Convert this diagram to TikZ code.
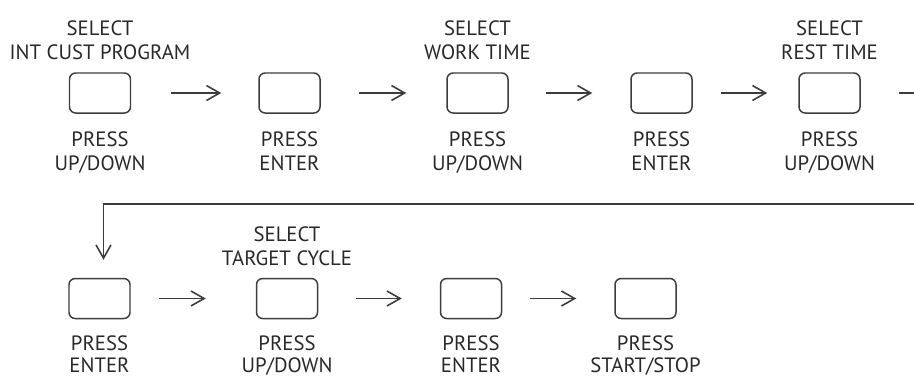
\documentclass[tikz,border=0pt]{standalone}
\usepackage{fontspec}
\setmainfont{PT Sans}
\usetikzlibrary{arrows.meta, positioning, calc}
\definecolor{keyGray}{RGB}{60,60,60}
\definecolor{txtGray}{RGB}{40,40,40}
\tikzset{
  keyN/.style={rectangle, rounded corners=3.5pt, draw=keyGray, line width=0.85pt,
    minimum width=1.22cm, minimum height=0.8cm, inner sep=0pt},
  capL/.style={font=\fontsize{11.8}{13.6}\selectfont, text=txtGray, align=center, inner sep=0pt},
  lowL/.style={capL, font=\fontsize{11.8}{12.4}\selectfont},
  arr/.style={-{Straight Barb[length=7.5pt,width=8.5pt,line width=0.9pt]}, line width=0.9pt, color=keyGray},
}
\begin{document}
\begin{tikzpicture}

\useasboundingbox (0,0) rectangle (18.28,-7.56);
\clip (0,0) rectangle (18.28,-7.56);

%% ── ROW 1 ─────────────────────────────────────────────
\node[keyN] (b1) at (2.00,-1.86) {};
\node[keyN] (b2) at (5.79,-1.86) {};
\node[keyN] (b3) at (9.55,-1.86) {};
\node[keyN] (b4) at (13.23,-1.86) {};
\node[keyN] (b5) at (16.59,-1.86) {};

\node[capL, above=0.24cm of b1] (t1) {SELECT\\INT CUST PROGRAM};
\node[capL, above=0.24cm of b3] (t3) {SELECT\\WORK TIME};
\node[capL, above=0.24cm of b5] (t5) {SELECT\\REST TIME};

\node[capL, below=0.36cm of b1] (p1) {PRESS\\UP/DOWN};
\node[capL, below=0.36cm of b2] (p2) {PRESS\\ENTER};
\node[capL, below=0.36cm of b3] (p3) {PRESS\\UP/DOWN};
\node[capL, below=0.36cm of b4] (p4) {PRESS\\ENTER};
\node[capL, below=0.36cm of b5] (p5) {PRESS\\UP/DOWN};

%% ── ROW 2 ─────────────────────────────────────────────
\node[keyN] (s1) at (1.99,-5.97) {};
\node[keyN] (s2) at (5.74,-5.97) {};
\node[keyN] (s3) at (9.42,-5.97) {};
\node[keyN] (s4) at (12.91,-5.97) {};

\node[capL, above=0.24cm of s2] (t6) {SELECT\\TARGET CYCLE};

\node[lowL, below=0.32cm of s1] (q1) {PRESS\\ENTER};
\node[lowL, below=0.32cm of s2] (q2) {PRESS\\UP/DOWN};
\node[lowL, below=0.32cm of s3] (q3) {PRESS\\ENTER};
\node[lowL, below=0.32cm of s4] (q4) {PRESS\\START/STOP};

%% ── ARROWS ────────────────────────────────────────────
\foreach \a/\b/\s/\e in {b1/b2/0.80/0.74, b2/b3/0.76/0.80, b3/b4/0.74/0.76,
                         b4/b5/0.56/0.62, s1/s2/0.56/1.00, s2/s3/0.76/0.76,
                         s3/s4/0.56/0.76}
  \draw[arr, shorten <=\s cm, shorten >=\e cm] (\a.east) -- (\b.west);

\coordinate (wrap) at (19.0,-4.08);
\draw[arr, shorten <=0.76cm, shorten >=0.36cm]
  (b5.east) -| (wrap) -| ([xshift=0.08cm]s1.north);

\end{tikzpicture}
\end{document}
